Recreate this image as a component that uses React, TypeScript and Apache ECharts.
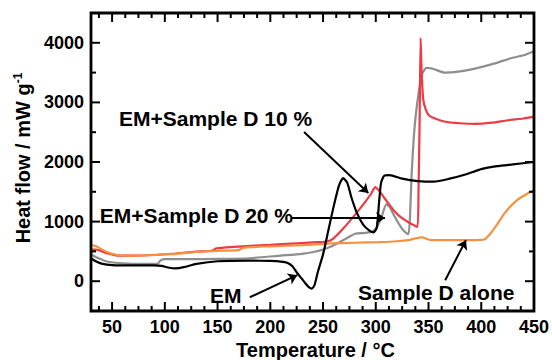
import React, { useEffect, useRef } from "react";
import * as echarts from "echarts";

// Axis ticks and labels
const temperatureTicks = [50, 100, 150, 200, 250, 300, 350, 400, 450];
const heatFlowTicks = [0, 1000, 2000, 3000, 4000];

// DSC traces: [temperature °C, heat flow mW/g]
const emCurve: [number, number][] = [
  [30, 380], [35, 330], [40, 295], [50, 270], [70, 265], [90, 265], [97, 258],
  [103, 230], [110, 215], [118, 235], [130, 290], [150, 335], [180, 345],
  [200, 340], [210, 330], [216, 310], [221, 250], [225, 150], [229, 60],
  [233, -30], [236.5, -100], [239.5, -125], [242, -60], [245, 150], [250, 450],
  [255, 850], [260, 1250], [265, 1600], [269, 1730], [273, 1650], [277, 1400],
  [282, 1150], [288, 950], [294, 850], [298, 820], [301, 900], [303, 1300],
  [305, 1650], [308, 1770], [313, 1780], [325, 1720], [340, 1680], [355, 1670],
  [370, 1720], [385, 1790], [400, 1880], [415, 1930], [430, 1960], [450, 2000],
];

const em20Curve: [number, number][] = [
  [30, 450], [35, 400], [45, 330], [60, 300], [80, 290], [93, 290], [96, 350],
  [100, 370], [120, 370], [150, 375], [180, 385], [210, 430], [230, 460],
  [241, 490], [250, 530], [257, 577], [265, 650], [272, 717], [281, 800],
  [290, 810], [296, 830], [300, 880], [305, 1050], [310, 1290], [313, 1250],
  [318, 1080], [323, 930], [328, 820], [331, 790], [332.5, 1100], [334, 1800],
  [336, 2400], [338, 2800], [341, 3200], [344, 3480], [348, 3580], [355, 3560],
  [365, 3500], [380, 3520], [397, 3580], [412, 3650], [428, 3740], [440, 3790],
  [450, 3860],
];

const em10Curve: [number, number][] = [
  [30, 530], [35, 530], [45, 470], [55, 430], [70, 430], [90, 440], [110, 465],
  [130, 495], [145, 515], [149, 550], [170, 580], [200, 610], [230, 640],
  [250, 660], [254, 665], [260, 720], [270, 900], [281, 1130], [290, 1330],
  [296, 1480], [299.5, 1580], [304, 1500], [308, 1400], [313, 1280], [318, 1170],
  [324, 1070], [331, 990], [339.5, 913], [340.5, 1500], [341.5, 2600],
  [342.5, 4080], [343.5, 3500], [345, 3050], [347, 2900], [350, 2790],
  [355, 2740], [365, 2680], [380, 2650], [395, 2640], [410, 2660], [425, 2700],
  [440, 2730], [450, 2760],
];

const sampleDCurve: [number, number][] = [
  [30, 610], [35, 585], [45, 490], [55, 440], [70, 430], [90, 440], [110, 460],
  [130, 490], [150, 510], [170, 520], [174, 560], [200, 585], [230, 605],
  [257, 633], [280, 645], [303, 656], [320, 670], [331, 689], [338, 720],
  [344, 734], [349, 705], [353, 689], [381, 689], [400, 695], [403, 700],
  [406, 745], [410, 830], [416, 980], [422, 1138], [428, 1260], [434, 1361],
  [442, 1450], [450, 1529],
];

// Curve annotations: text, left/middle anchor, and arrow from -> to (data space)
const annotationTexts = ["EM+Sample D 10 %", "EM+Sample D 20 %", "EM", "Sample D alone"];
const annotationAnchors: [number, number][] = [[56.5, 2726], [38.4, 1109], [142.9, -235], [283.2, -196]];
const arrowFrom: [number, number][] = [[232, 2504], [220, 1059], [180.6, -269], [365.8, 17]];
const arrowTo: [number, number][] = [[292.9, 1479], [308.8, 1059], [225.5, 101], [385.5, 689]];

const FONT = "'Liberation Sans', Arial, Helvetica, sans-serif";
const AXIS_W = 2.8;
const TICK_W = 2;
const MAJOR_LEN = 9;
const MINOR_LEN = 5;
const X_RANGE: [number, number] = [30, 450];
const Y_RANGE: [number, number] = [-500, 4500];

const minorTemperatureTicks: number[] = [];
for (let t = 37.5; t < 450; t += 12.5) if (t % 50 !== 0) minorTemperatureTicks.push(t);
const minorHeatFlowTicks: number[] = [];
for (let v = -500; v <= 4500; v += 1000) minorHeatFlowTicks.push(v);

// Frame items for the custom series: [value, kind]
// kind 0/1: major/minor temperature tick, 2/3: major/minor heat-flow tick, 4: plot frame
const frameItems: [number, number][] = [
  ...temperatureTicks.map((t) => [t, 0] as [number, number]),
  ...minorTemperatureTicks.map((t) => [t, 1] as [number, number]),
  ...heatFlowTicks.map((v) => [v, 2] as [number, number]),
  ...minorHeatFlowTicks.map((v) => [v, 3] as [number, number]),
  [0, 4],
];

const labelStyle = {
  show: true,
  margin: 7,
  color: "#000",
  fontSize: 18,
  fontWeight: "bold",
  fontFamily: FONT,
  formatter: (v: number) => String(v),
};

function trace(name: string, data: [number, number][], color: string, extra: object = {}) {
  return {
    name,
    type: "line" as const,
    data,
    showSymbol: false,
    symbol: "none",
    smooth: 0.2,
    lineStyle: { color, width: 2.2 },
    itemStyle: { color },
    silent: true,
    ...extra,
  };
}

// Draws the boxed frame and the inward ticks on all four sides
function renderFrame(_params: any, api: any) {
  const value = api.value(0);
  const kind = api.value(1);
  const [x0, y0] = api.coord([X_RANGE[0], Y_RANGE[0]]);
  const [x1, y1] = api.coord([X_RANGE[1], Y_RANGE[1]]);
  const fill = { fill: "#000" };
  if (kind === 4) {
    return {
      type: "rect",
      shape: { x: x0, y: y1, width: x1 - x0, height: y0 - y1 },
      style: { fill: "none", stroke: "#000", lineWidth: AXIS_W },
    };
  }
  const len = kind === 0 || kind === 2 ? MAJOR_LEN : MINOR_LEN;
  if (kind <= 1) {
    const px = api.coord([value, Y_RANGE[0]])[0];
    return {
      type: "group",
      children: [
        { type: "rect", shape: { x: px - TICK_W / 2, y: y0 - len, width: TICK_W, height: len }, style: fill },
        { type: "rect", shape: { x: px - TICK_W / 2, y: y1, width: TICK_W, height: len }, style: fill },
      ],
    };
  }
  const py = api.coord([X_RANGE[0], value])[1];
  return {
    type: "group",
    children: [
      { type: "rect", shape: { x: x0, y: py - TICK_W / 2, width: len, height: TICK_W }, style: fill },
      { type: "rect", shape: { x: x1 - len, y: py - TICK_W / 2, width: len, height: TICK_W }, style: fill },
    ],
  };
}

export default function App() {
  const ref = useRef<HTMLDivElement>(null);

  useEffect(() => {
    const chart = echarts.init(ref.current!, null, { renderer: "svg" });

    const arrows = arrowFrom.map((from, i) => [
      { coord: from, symbol: "none" },
      { coord: arrowTo[i], symbol: "arrow" },
    ]);

    chart.setOption({
      animation: false,
      backgroundColor: "#fff",
      grid: { left: 91, right: 12, top: 13, bottom: 49 },
      xAxis: {
        type: "value",
        min: X_RANGE[0],
        max: X_RANGE[1],
        axisLine: { show: false },
        axisTick: { show: false },
        axisLabel: { ...labelStyle, customValues: temperatureTicks },
        splitLine: { show: false },
      },
      yAxis: {
        type: "value",
        min: Y_RANGE[0],
        max: Y_RANGE[1],
        axisLine: { show: false },
        axisTick: { show: false },
        axisLabel: { ...labelStyle, customValues: heatFlowTicks },
        splitLine: { show: false },
      },
      series: [
        {
          type: "custom",
          name: "frame",
          silent: true,
          clip: false,
          z: 5,
          encode: { x: -1, y: -1 },
          dimensions: ["value", "kind"],
          data: frameItems,
          renderItem: renderFrame,
        },
        trace("EM+Sample D 20 %", em20Curve, "#8e8e8e"),
        trace("EM+Sample D 10 %", em10Curve, "#ee3a44"),
        trace("Sample D alone", sampleDCurve, "#f5913f"),
        trace("EM", emCurve, "#000", {
          markLine: {
            silent: true,
            symbol: ["none", "arrow"],
            symbolSize: 9,
            label: { show: false },
            emphasis: { disabled: true },
            lineStyle: { color: "#000", width: 2, type: "solid" },
            data: arrows,
          },
        }),
      ],
    });

    const toPx = (p: [number, number]) =>
      chart.convertToPixel({ xAxisIndex: 0, yAxisIndex: 0 }, p) as number[];

    const texts = annotationTexts.map((text, i) => {
      const [x, y] = toPx(annotationAnchors[i]);
      return {
        type: "text",
        x,
        y,
        z: 100,
        style: {
          text,
          align: "left",
          verticalAlign: "middle",
          fill: "#000",
          fontSize: 21,
          fontWeight: "bold",
          fontFamily: FONT,
        },
      };
    });

    chart.setOption({
      graphic: [
        ...texts,
        {
          type: "text",
          x: 315.5,
          y: 350,
          style: {
            text: "Temperature / °C",
            align: "center",
            verticalAlign: "middle",
            fill: "#000",
            fontSize: 20,
            fontWeight: "bold",
            fontFamily: FONT,
          },
        },
        {
          type: "text",
          x: 23,
          y: 158,
          rotation: Math.PI / 2,
          style: {
            text: "{t|Heat flow / mW g}{s|-1}",
            align: "center",
            verticalAlign: "middle",
            rich: {
              t: { fontSize: 20, fontWeight: "bold", fontFamily: FONT, fill: "#000", lineHeight: 22 },
              s: { fontSize: 12, fontWeight: "bold", fontFamily: FONT, fill: "#000", lineHeight: 12, verticalAlign: "top" },
            },
          },
        },
      ],
    });

    return () => chart.dispose();
  }, []);

  return (
    <div
      ref={ref}
      style={{ position: "absolute", left: 0, top: 0, width: 552, height: 360 }}
    />
  );
}
